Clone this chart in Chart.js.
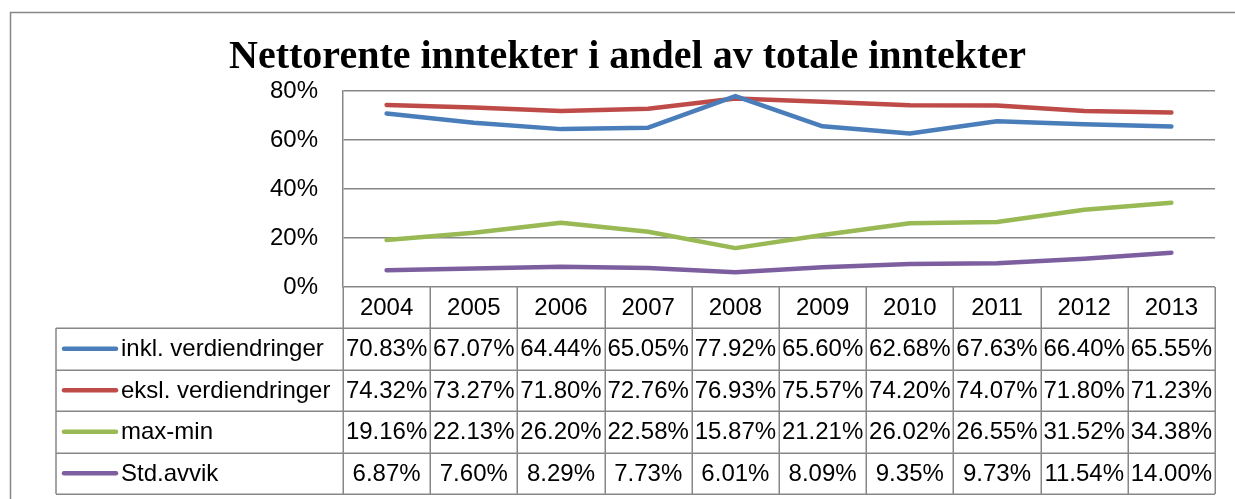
<!DOCTYPE html>
<html>
<head>
<meta charset="utf-8">
<script src="https://cdn.jsdelivr.net/npm/chart.js@4"></script>
<style>
  body { margin: 0; background: #fff; }
  #wrap { width: 1235px; height: 499px; }
</style>
</head>
<body>
<div id="wrap"><canvas id="c" width="1235" height="499"></canvas></div>
<script>
const years = ['2004', '2005', '2006', '2007', '2008', '2009', '2010', '2011', '2012', '2013'];
const inklVerdiendringer = [70.83, 67.07, 64.44, 65.05, 77.92, 65.60, 62.68, 67.63, 66.40, 65.55];
const ekslVerdiendringer = [74.32, 73.27, 71.80, 72.76, 76.93, 75.57, 74.20, 74.07, 71.80, 71.23];
const maxMin = [19.16, 22.13, 26.20, 22.58, 15.87, 21.21, 26.02, 26.55, 31.52, 34.38];
const stdAvvik = [6.87, 7.60, 8.29, 7.73, 6.01, 8.09, 9.35, 9.73, 11.54, 14.00];
const yTicks = [0, 20, 40, 60, 80];

const FONT = '"Liberation Sans", Arial, sans-serif';
const GRID = '#878787';

const series = [
  { label: 'inkl. verdiendringer', data: inklVerdiendringer, color: '#4a7ebb' },
  { label: 'eksl. verdiendringer', data: ekslVerdiendringer, color: '#be4b48' },
  { label: 'max-min', data: maxMin, color: '#98b954' },
  { label: 'Std.avvik', data: stdAvvik, color: '#7d5fa0' }
];

// frame + data table under the plot, columns follow the x scale
const tablePlugin = {
  id: 'dataTable',
  beforeDraw(chart) {
    const ctx = chart.ctx;
    ctx.save();
    ctx.strokeStyle = GRID;
    ctx.lineWidth = 1.5;
    ctx.beginPath();
    ctx.moveTo(10.5, 499);
    ctx.lineTo(10.5, 12.5);
    ctx.lineTo(1235, 12.5);
    ctx.stroke();
    ctx.restore();
  },
  afterDraw(chart) {
    const ctx = chart.ctx;
    const area = chart.chartArea;
    const x = chart.scales.x;
    const colW = area.width / years.length;
    const tableLeft = 56;
    const headTop = area.bottom;
    const headBottom = 328;
    const rowH = 41.5;
    const tableBottom = headBottom + rowH * series.length;

    ctx.save();
    ctx.strokeStyle = GRID;
    ctx.lineWidth = 1.5;
    ctx.beginPath();
    // column dividers
    for (let i = 0; i <= years.length; i++) {
      const cx = Math.round(area.left + i * colW) + 0.25;
      ctx.moveTo(cx, headTop);
      ctx.lineTo(cx, tableBottom);
    }
    ctx.moveTo(tableLeft, headBottom);
    ctx.lineTo(tableLeft, tableBottom);
    // row lines
    for (let r = 0; r <= series.length; r++) {
      const ry = Math.round(headBottom + r * rowH) + 0.25;
      ctx.moveTo(tableLeft, ry);
      ctx.lineTo(area.right, ry);
    }
    ctx.stroke();

    ctx.fillStyle = '#000';
    ctx.font = '24px ' + FONT;
    ctx.textBaseline = 'middle';
    ctx.textAlign = 'center';
    years.forEach((y, i) => {
      ctx.fillText(y, x.getPixelForValue(i), (headTop + headBottom) / 2 + 1);
    });

    series.forEach((s, r) => {
      const cy = headBottom + r * rowH + rowH / 2 + 1;
      ctx.strokeStyle = s.color;
      ctx.lineWidth = 4.5;
      ctx.lineCap = 'round';
      ctx.beginPath();
      ctx.moveTo(64, cy - 1);
      ctx.lineTo(116, cy - 1);
      ctx.stroke();
      ctx.textAlign = 'left';
      ctx.fillText(s.label, 121, cy);
      ctx.textAlign = 'center';
      s.data.forEach((v, i) => {
        ctx.fillText(v.toFixed(2) + '%', x.getPixelForValue(i), cy);
      });
    });
    ctx.restore();
  }
};

new Chart(document.getElementById('c'), {
  type: 'line',
  data: {
    labels: years,
    datasets: series.map(s => ({
      label: s.label,
      data: s.data,
      borderColor: s.color,
      backgroundColor: s.color,
      borderWidth: 4.5,
      borderCapStyle: 'round',
      borderJoinStyle: 'round',
      pointRadius: 0,
      tension: 0
    }))
  },
  options: {
    responsive: false,
    animation: false,
    layout: { padding: { left: 40, right: 20, top: 0, bottom: 212 } },
    plugins: {
      legend: { display: false },
      tooltip: { enabled: false },
      title: {
        display: true,
        text: 'Nettorente inntekter i andel av totale inntekter',
        color: '#000',
        font: { family: '"Liberation Serif", "Times New Roman", serif', size: 40, weight: 'bold' },
        padding: { top: 34, bottom: 9 }
      }
    },
    scales: {
      x: {
        display: false,
        offset: true
      },
      y: {
        min: 0,
        max: 80,
        afterFit(scale) { scale.width = 303; },
        afterBuildTicks(scale) { scale.ticks = yTicks.map(v => ({ value: v })); },
        ticks: {
          color: '#000',
          padding: 25,
          font: { family: FONT, size: 24 },
          callback: v => v + '%'
        },
        grid: { color: GRID, lineWidth: 1.5, drawTicks: false },
        border: { color: GRID, width: 1.5 }
      }
    }
  },
  plugins: [tablePlugin]
});
</script>
</body>
</html>
